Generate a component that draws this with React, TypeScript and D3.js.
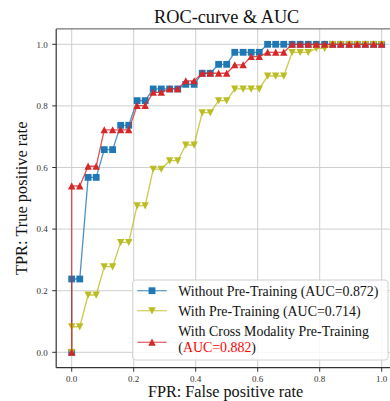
import { scaleLinear, line } from 'd3'

const fpr = [0, 0, 0.026, 0.053, 0.079, 0.105, 0.132, 0.158, 0.184, 0.211, 0.237, 0.263, 0.289, 0.316, 0.342, 0.368, 0.395, 0.421, 0.447, 0.474, 0.5, 0.526, 0.553, 0.579, 0.605, 0.632, 0.658, 0.684, 0.711, 0.737, 0.763, 0.789, 0.816, 0.842, 0.868, 0.895, 0.921, 0.947, 0.974, 1.0]

const withoutPT = [0, 0.238, 0.238, 0.568, 0.568, 0.658, 0.658, 0.737, 0.737, 0.817, 0.817, 0.855, 0.855, 0.855, 0.855, 0.87, 0.87, 0.906, 0.906, 0.935, 0.935, 0.974, 0.974, 0.974, 0.974, 1, 1, 1, 1, 1, 1, 1, 1, 1, 1, 1, 1, 1, 1, 1]
const withPT = [0, 0.083, 0.083, 0.186, 0.186, 0.278, 0.278, 0.357, 0.357, 0.476, 0.476, 0.595, 0.595, 0.622, 0.622, 0.673, 0.673, 0.778, 0.778, 0.817, 0.817, 0.855, 0.855, 0.855, 0.855, 0.897, 0.897, 0.897, 0.974, 0.974, 0.974, 0.987, 0.987, 1, 1, 1, 1, 1, 1, 1]
const crossPT = [0, 0.54, 0.54, 0.604, 0.604, 0.722, 0.722, 0.722, 0.722, 0.801, 0.801, 0.844, 0.844, 0.855, 0.855, 0.881, 0.881, 0.906, 0.906, 0.906, 0.906, 0.933, 0.933, 0.96, 0.96, 0.974, 0.974, 0.974, 1, 1, 1, 1, 1, 1, 1, 1, 1, 1, 1, 1]

const tickValues = [0, 0.2, 0.4, 0.6, 0.8, 1.0]
const tickLabels = ['0.0', '0.2', '0.4', '0.6', '0.8', '1.0']

const series = [
  { label: 'Without Pre-Training (AUC=0.872)', values: withoutPT, color: '#1f77b4', marker: 'square' },
  { label: 'With Pre-Training (AUC=0.714)', values: withPT, color: '#bcbd22', marker: 'down' },
  { label: 'With Cross Modality Pre-Training', values: crossPT, color: '#d62728', marker: 'up' },
]

const font = '"Liberation Serif", "Times New Roman", serif'

const Marker = ({ kind, cx, cy, color }) => {
  const r = 3.4
  if (kind === 'square') {
    return <rect x={cx - r} y={cy - r} width={2 * r} height={2 * r} fill={color} />
  }
  const d = kind === 'up'
    ? `M${cx},${cy - r - 0.3}L${cx + r + 0.3},${cy + r}L${cx - r - 0.3},${cy + r}Z`
    : `M${cx},${cy + r + 0.3}L${cx + r + 0.3},${cy - r}L${cx - r - 0.3},${cy - r}Z`
  return <path d={d} fill={color} />
}

export default function App() {
  const x = scaleLinear().domain([-0.05, 1.05]).range([56.2, 397.2])
  const y = scaleLinear().domain([-0.05, 1.05]).range([367.7, 28.9])
  const [x0, x1] = x.range()
  const [y0, y1] = y.range()

  const path = line<number>().x((_, i) => x(fpr[i])).y(v => y(v))

  const legendX = 132.7
  const legendY = 280
  const rows = [290.7, 310.7, 342.3]

  return (
    <svg width={390} height={401} style={{ position: 'absolute', left: 0, top: 0, background: '#fff' }} fontFamily={font}>
      <rect width={390} height={401} fill="#fff" />
      {/* grid */}
      {tickValues.map(t => (
        <g key={'g' + t}>
          <line x1={x(t)} x2={x(t)} y1={y1} y2={y0} stroke="#cfcfcf" strokeWidth={1} />
          <line x1={x0} x2={x1} y1={y(t)} y2={y(t)} stroke="#cfcfcf" strokeWidth={1} />
        </g>
      ))}

      {/* curves */}
      {series.map(s => (
        <g key={s.label}>
          <path d={path(s.values) || ''} fill="none" stroke={s.color} strokeWidth={1.3} strokeOpacity={0.8} />
          {s.values.map((v, i) => (
            <Marker key={i} kind={s.marker} cx={x(fpr[i])} cy={y(v)} color={s.color} />
          ))}
        </g>
      ))}

      {/* spines */}
      <line x1={x0} x2={x0} y1={y1} y2={y0} stroke="#333" strokeWidth={1.2} />
      <line x1={x0} x2={x1} y1={y0} y2={y0} stroke="#333" strokeWidth={1.2} />
      <line x1={x0} x2={x1} y1={y1} y2={y1} stroke="#555" strokeWidth={1} />
      <line x1={x1} x2={x1} y1={y1} y2={y0} stroke="#555" strokeWidth={1} />

      {/* ticks */}
      {tickValues.map((t, i) => (
        <g key={'t' + t} fontSize={9} fill="#333" fontFamily={font}>
          <line x1={x0 - 4} x2={x0} y1={y(t)} y2={y(t)} stroke="#333" strokeWidth={1} />
          <text x={x0 - 8.5} y={y(t) + 3.2} textAnchor="end">{tickLabels[i]}</text>
          <line x1={x(t)} x2={x(t)} y1={y0} y2={y0 + 4} stroke="#333" strokeWidth={1} />
          <text x={x(t)} y={y0 + 14.3} textAnchor="middle">{tickLabels[i]}</text>
        </g>
      ))}

      {/* legend */}
      <rect x={legendX} y={legendY} width={255.3} height={80} rx={3} fill="#fff" fillOpacity={0.85} stroke="#d0d0d0" strokeWidth={1} />
      {series.map((s, i) => (
        <g key={'l' + s.label}>
          <line x1={137.3} x2={166.7} y1={rows[i]} y2={rows[i]} stroke={s.color} strokeWidth={1.3} strokeOpacity={0.7} />
          <Marker kind={s.marker} cx={152} cy={rows[i]} color={s.color} />
        </g>
      ))}
      <g fontSize={13.9} fill="#111">
        <text x={178.3} y={296}>{series[0].label}</text>
        <text x={178.3} y={316}>{series[1].label}</text>
        <text x={178.3} y={336}>{series[2].label}</text>
        <text x={178.3} y={351.7}>(<tspan fill="#ff0000">AUC=0.882</tspan>)</text>
      </g>

      {/* titles */}
      <text x={226.7} y={22.5} textAnchor="middle" fontSize={18.3} fill="#111">ROC-curve &amp; AUC</text>
      <text x={225.5} y={397} textAnchor="middle" fontSize={16.2} fill="#111">FPR: False positive rate</text>
      <text transform={`translate(27,${(y0 + y1) / 2}) rotate(-90)`} textAnchor="middle" fontSize={16.4} fill="#111">TPR: True positive rate</text>
    </svg>
  )
}
